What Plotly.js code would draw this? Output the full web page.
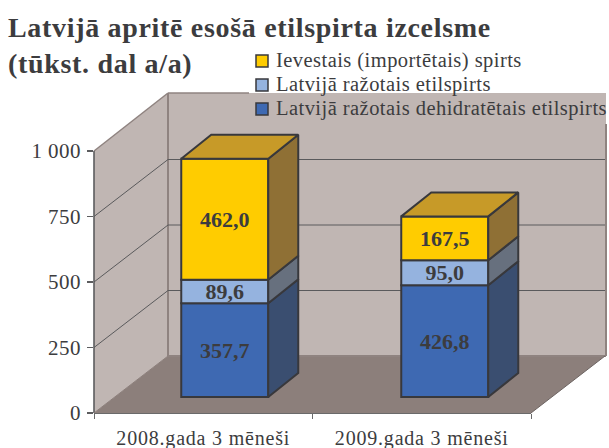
<!DOCTYPE html>
<html><head><meta charset="utf-8">
<script src="https://cdn.plot.ly/plotly-3.0.1.min.js"></script>
<style>html,body{margin:0;padding:0;background:#fff}
.gtitle{letter-spacing:.68px}
.annotation-text{letter-spacing:.45px}
.xtick text{letter-spacing:.8px}
.ytick text{letter-spacing:.4px}
</style></head>
<body><div id="c" style="width:609px;height:448px"></div>
<script>
// ---- data ----
const categories = ['2008.gada 3 mēneši', '2009.gada 3 mēneši'];
const dehidrated = [357.7, 426.8];
const domestic = [89.6, 95.0];
const imported = [462.0, 167.5];
const seriesNames = ['Ievestais (importētais) spirts', 'Latvijā ražotais etilspirts', 'Latvijā ražotais dehidratētais etilspirts'];
const yTicks = [0, 250, 500, 750, 1000];
const yTickText = ['0', '250', '500', '750', '1 000'];
const labelsDeh = ['357,7', '426,8'];
const labelsDom = ['89,6', '95,0'];
const labelsImp = ['462,0', '167,5'];

// ---- styling / geometry ----
const P = {l: 94, r: 531, t: 93, b: 413};
const W = 609, H = 448;
const axisTop = 151;
const pxX = (P.r - P.l) / 2, pxY = (P.b - axisTop) / 1000;
const wallDX = 74, wallDY = 57;
const barDX = 30, barDY = 24;
const barW = 87 / pxX;
const frontDX = [21.5, 23], frontDY = 16;
const ink = '#38383c', txt = '#3c3c3e';
const serif = '"Liberation Serif", serif';
const colors = {
  deh: {front: '#3E69B2', side: '#3A4E70', top: '#3A4E70'},
  dom: {front: '#95B3DF', side: '#67707E', top: '#67707E'},
  imp: {front: '#FFCC00', side: '#8F7035', top: '#C79A28'}
};
const wall = '#C0B6B3', floor = '#8C7F7B', edge = '#8F8380', grid = '#5a5a5c', axisC = '#5c5c5e';

const px = v => (v - P.l) / (P.r - P.l);
const py = v => (P.b - v) / (P.b - P.t);
const poly = pts => 'M' + pts.map(p => px(p[0]) + ',' + py(p[1])).join('L') + 'Z';
const paperShape = (pts, fill) => ({type: 'path', xref: 'paper', yref: 'paper', layer: 'below',
  path: poly(pts), fillcolor: fill, line: {color: fill, width: 0}});
const seg = (x0, y0, x1, y1, c, w) => ({type: 'line', xref: 'paper', yref: 'paper', layer: 'below',
  x0: px(x0), y0: py(y0), x1: px(x1), y1: py(y1), line: {color: c, width: w}});

const topWall = P.t, backR = P.r + wallDX, floorBack = P.b - wallDY;
const shapes = [
  paperShape([[P.l, axisTop], [P.l + wallDX, topWall], [P.l + wallDX, floorBack], [P.l, P.b]], wall),
  paperShape([[P.l + wallDX, topWall], [backR + 1, topWall], [backR + 1, floorBack], [P.l + wallDX, floorBack]], wall),
  paperShape([[P.l, P.b], [P.r, P.b], [backR, floorBack], [P.l + wallDX, floorBack]], floor),
  seg(P.l + wallDX, topWall, P.l + wallDX, floorBack, edge, 2),
  seg(P.l + wallDX, topWall, 249, topWall, edge, 1.5),
  seg(P.l, axisTop, P.l + wallDX, topWall, edge, 1.5),
  seg(backR + 1, 124, backR + 1, floorBack, edge, 2),
  seg(P.l + wallDX, floorBack, backR + 1, floorBack, edge, 2),
  seg(P.l, axisTop, P.l, P.b, axisC, 1.6)
];
yTicks.slice(1, -1).forEach(v => {
  const y = P.b - v * pxY;
  shapes.push(seg(P.l, y, P.l + wallDX, y - wallDY, grid, 1));
  shapes.push(seg(P.l + wallDX, y - wallDY, backR, y - wallDY, grid, 1));
});
shapes.push(seg(P.l, P.b, P.l + wallDX, floorBack, floor, 1));
shapes.push(seg(P.r, P.b, backR, floorBack, '#6d6462', 1));

// ---- bars + 3D faces, all from the data ----
const centers = categories.map((_, i) => i + 0.5 + frontDX[i] / pxX);
const floorBase = frontDY / pxY;
const dxU = barDX / pxX, dyU = barDY / pxY;
const traces = [];
const stack = [[dehidrated, colors.deh, labelsDeh], [domestic, colors.dom, labelsDom], [imported, colors.imp, labelsImp]];
const running = categories.map(() => floorBase);
stack.forEach(([vals, col, labels], si) => {
  const bases = running.slice();
  traces.push({type: 'bar', x: centers, y: vals, base: bases, width: barW, cliponaxis: false,
    marker: {color: col.front, line: {color: ink, width: 2}},
    text: labels, textposition: 'inside', insidetextanchor: 'middle', textangle: 0, constraintext: 'none',
    textfont: {family: serif, size: 22, color: txt, weight: 'bold'}, hoverinfo: 'skip', showlegend: false});
  const sx = [], sy = [];
  vals.forEach((v, i) => {
    const xr = centers[i] + barW / 2, b = bases[i], t = b + v;
    sx.push(xr, xr + dxU, xr + dxU, xr, xr, null);
    sy.push(b, b + dyU, t + dyU, t, b, null);
  });
  traces.push({type: 'scatter', mode: 'lines', x: sx, y: sy, fill: 'toself', fillcolor: col.side, cliponaxis: false,
    connectgaps: false, line: {color: ink, width: 2}, hoverinfo: 'skip', showlegend: false});
  vals.forEach((v, i) => { running[i] += v; });
  if (si === stack.length - 1) {
    const tx = [], ty = [];
    vals.forEach((v, i) => {
      const xl = centers[i] - barW / 2, xr = centers[i] + barW / 2, t = running[i];
      tx.push(xl, xr, xr + dxU, xl + dxU, xl, null);
      ty.push(t, t, t + dyU, t + dyU, t, null);
    });
    traces.push({type: 'scatter', mode: 'lines', x: tx, y: ty, fill: 'toself', fillcolor: col.top, cliponaxis: false,
      line: {color: ink, width: 2}, hoverinfo: 'skip', showlegend: false});
  }
});

// ---- legend built from swatches and real text ----
const legendRows = [61, 85, 109];
const legendCols = [colors.imp.front, colors.dom.front, colors.deh.front];
const annotations = [];
seriesNames.forEach((n, i) => {
  const y = legendRows[i];
  shapes.push({type: 'rect', xref: 'paper', yref: 'paper', layer: 'above',
    x0: px(256), x1: px(268), y0: py(y - 6), y1: py(y + 6), fillcolor: legendCols[i], line: {color: ink, width: 1.5}});
  annotations.push({xref: 'paper', yref: 'paper', x: px(275), y: py(y - 1), xanchor: 'left', yanchor: 'middle', align: 'left',
    text: n, showarrow: false, width: 334, font: {family: serif, size: 20.5, color: txt}, borderpad: 0});
});

const layout = {
  width: W, height: H, autosize: false, showlegend: false,
  paper_bgcolor: '#fff', plot_bgcolor: 'rgba(0,0,0,0)',
  margin: {l: P.l, r: W - P.r, t: P.t, b: H - P.b, pad: 0},
  title: {text: 'Latvijā apritē esošā etilspirta izcelsme<br>(tūkst. dal a/a)',
    x: 8 / W, xanchor: 'left', xref: 'container', y: 1 - 37 / H, yanchor: 'top', yref: 'container',
    font: {family: serif, size: 28, color: txt, weight: 'bold'}},
  barmode: 'overlay',
  xaxis: {type: 'linear', range: [0, 2], fixedrange: true, showgrid: false, zeroline: false,
    tickmode: 'array', tickvals: [0.5, 1.5], ticktext: categories, ticks: '', ticklen: 0, ticklabelstandoff: 7,
    showline: true, linecolor: '#6a6a6a', linewidth: 1,
    minor: {tickmode: 'array', tickvals: [0, 1, 2], ticks: 'outside', ticklen: 5, tickcolor: '#6a6a6a', tickwidth: 1, showgrid: false},
    tickfont: {family: serif, size: 20, color: txt}, automargin: false},
  yaxis: {range: [0, (P.b - P.t) / pxY], fixedrange: true, showgrid: false, zeroline: false,
    tickmode: 'array', tickvals: yTicks, ticktext: yTickText, ticks: 'outside', ticklen: 6,
    tickcolor: axisC, tickwidth: 1.4, showline: false, ticklabelstandoff: 2,
    tickfont: {family: serif, size: 21, color: txt}, automargin: false},
  shapes, annotations
};
Plotly.newPlot('c', traces, layout, {displayModeBar: false, staticPlot: true});
</script></body></html>
